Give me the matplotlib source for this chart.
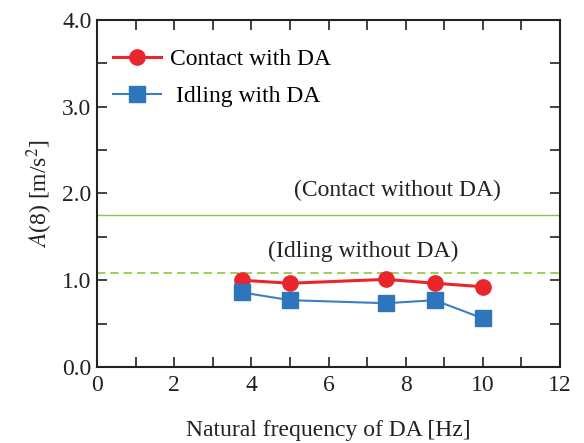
import matplotlib
matplotlib.use('Agg')
import matplotlib.pyplot as plt
from matplotlib.ticker import MultipleLocator

freq = [3.75, 5.0, 7.5, 8.75, 10.0]
contact_with = [1.00, 0.965, 1.01, 0.965, 0.925]
idling_with = [0.86, 0.77, 0.735, 0.77, 0.56]
contact_without = 1.75
idling_without = 1.087

plt.rcParams['font.family'] = ['Liberation Serif', 'DejaVu Serif']
plt.rcParams['mathtext.fontset'] = 'stix'

fig = plt.figure(figsize=(5.84, 4.43), dpi=100)
ax = fig.add_axes([0.166, 0.1716, 0.793, 0.7834])

ax.axhline(contact_without, color='#8cc63f', lw=1.0)
ax.axhline(idling_without, color='#8cc63f', lw=1.2, ls=(0, (5, 3)))
ax.plot(freq, contact_with, color='#e8262b', lw=2.2, marker='o', ms=11,
        label='Contact with DA')
ax.plot(freq, idling_with, color='#3a7fc4', lw=1.5, marker='s', ms=11,
        mfc='#2e75bb', mec='#2e75bb', label=' Idling with DA')

ax.text(7.78, 2.04, '(Contact without DA)', ha='center', va='center', fontsize=17, color='#222222')
ax.text(6.9, 1.33, '(Idling without DA)', ha='center', va='center', fontsize=17, color='#222222')

ax.set_xlim(0, 12)
ax.set_ylim(0, 4)
ax.xaxis.set_major_locator(MultipleLocator(2))
ax.xaxis.set_minor_locator(MultipleLocator(1))
ax.yaxis.set_major_locator(MultipleLocator(1))
ax.yaxis.set_minor_locator(MultipleLocator(0.5))
ax.yaxis.set_major_formatter(matplotlib.ticker.FormatStrFormatter('%.1f'))
ax.tick_params(which='both', direction='in', top=True, right=True, labelsize=17,
               colors='#222222', pad=4)
ax.tick_params(axis='x', which='both', pad=6)
ax.tick_params(which='major', length=7, width=1.2)
ax.tick_params(which='minor', length=7, width=1.2)
for s in ax.spines.values():
    s.set_linewidth(1.5)
    s.set_color('#222222')

ax.set_xlabel('Natural frequency of DA [Hz]', fontsize=17, labelpad=17, color='#222222')
ax.set_ylabel(r'$A$(8) [m/s$^2$]', fontsize=17, labelpad=5, color='#222222')

ax.legend(loc='upper left', bbox_to_anchor=(0.0, 0.965), frameon=False, fontsize=17,
          handlelength=2.0, handletextpad=0.4, labelspacing=0.65, borderaxespad=0.3)

fig.savefig('out.png', dpi=100)
